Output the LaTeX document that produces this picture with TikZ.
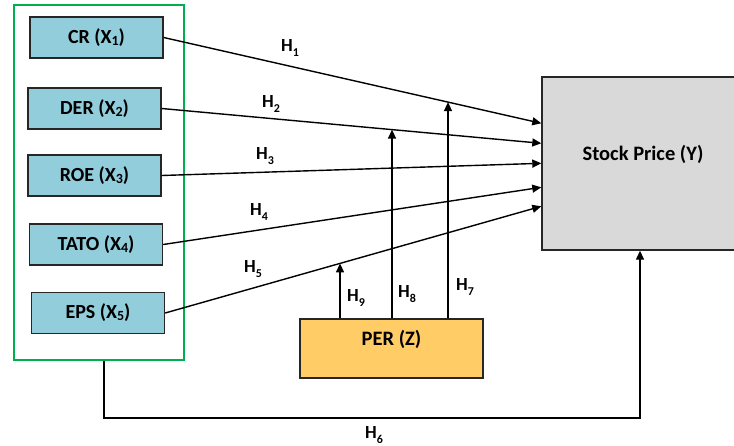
\documentclass[tikz,border=0pt]{standalone}
\usepackage{fontspec}
\setmainfont{Carlito}
\usetikzlibrary{arrows.meta,intersections,calc}
\definecolor{boxblue}{HTML}{92CDDC}
\definecolor{pergold}{HTML}{FFCC66}
\definecolor{ygray}{HTML}{D9D9D9}
\definecolor{grpgreen}{HTML}{00B050}
\newcommand{\xsub}[1]{\raisebox{-0.2ex}{\fontsize{14}{14}\selectfont #1}}
\newcommand{\hlab}[1]{H\raisebox{-0.5ex}{\fontsize{12}{12}\selectfont #1}}
\begin{document}
\begin{tikzpicture}[x=1pt,y=-1pt,
  xbox/.style={draw=black!85, line width=1.4pt, fill=boxblue, minimum width=133pt, minimum height=41pt, inner sep=0pt, font=\bfseries\fontsize{20}{23}\selectfont},
  bigbox/.style={draw=black!85, line width=1.4pt, inner sep=0pt},
  lbl/.style={font=\bfseries\fontsize{20.5}{23}\selectfont, inner sep=0pt},
  hl/.style={font=\bfseries\fontsize{18.5}{21}\selectfont, inner sep=0pt},
  arr/.style={line width=1.4pt, draw=black, -{Triangle[length=9pt,width=8pt]}}]
\useasboundingbox (0,0) rectangle (734,445);
\clip (0,0) rectangle (734,445);
% group box
\node[draw=grpgreen, line width=2.2pt, minimum width=170pt, minimum height=355pt, inner sep=0pt] (grp) at (99,182.5) {};
% independent variables
\node[xbox] (cr) at (96.5,37.5) {CR (X\xsub{1})};
\node[xbox] (der) at (94.5,108.5) {DER (X\xsub{2})};
\node[xbox] (roe) at (94.5,175.5) {ROE (X\xsub{3})};
\node[xbox] (tato) at (96,244.5) {TATO (X\xsub{4})};
\node[xbox] (eps) at (98,313) {EPS (X\xsub{5})};
% dependent
\node[bigbox, fill=ygray, minimum width=202pt, minimum height=173pt] (y) at (643,163.5) {};
\node[lbl] (ytxt) at ([yshift=9pt]y.center) {Stock Price (Y)};
% moderator
\node[bigbox, fill=pergold, minimum width=183pt, minimum height=59pt] (per) at (391.5,348.5) {};
\node[lbl] (pertxt) at ([yshift=9pt]per.center) {PER (Z)};
% targets
\coordinate (y1) at ([yshift=-47pt]y.north west);
\coordinate (y2) at ([yshift=-67pt]y.north west);
\coordinate (y3) at ([yshift=-87pt]y.north west);
\coordinate (y4) at ([yshift=-111pt]y.north west);
\coordinate (y5) at ([yshift=-130pt]y.north west);
\draw[arr, name path=h1] (cr.east) -- (y1);
\draw[arr, name path=h2] (der.east) -- (y2);
\draw[arr] (roe.east) -- (y3);
\draw[arr] (tato.east) -- (y4);
\draw[arr, name path=h5] (eps.east) -- (y5);
% moderating arrows
\coordinate (p7) at ([xshift=56.5pt]per.north);
\coordinate (p8) at ([xshift=0.5pt]per.north);
\coordinate (p9) at ([xshift=-51.5pt]per.north);
\path[name path=v7] (p7) -- ++(0,-300);
\path[name path=v8] (p8) -- ++(0,-300);
\path[name path=v9] (p9) -- ++(0,-300);
\path[name intersections={of=v7 and h1, by=i7}];
\path[name intersections={of=v8 and h2, by=i8}];
\path[name intersections={of=v9 and h5, by=i9}];
\draw[arr] (p7) -- (i7);
\draw[arr] (p8) -- (i8);
\draw[arr] (p9) -- (i9);
% H6 path
\coordinate (g6) at ([xshift=5pt]grp.south);
\coordinate (c6) at (372,418);
\coordinate (t6) at ([xshift=-3pt]y.south);
\draw[arr] (g6) -- (g6 |- c6) -- (c6 -| t6) -- (t6);
% labels
\node[hl] (lh1) at (290,48) {\hlab{1}};
\node[hl] (lh2) at (271,104) {\hlab{2}};
\node[hl] (lh3) at (265,156) {\hlab{3}};
\node[hl] (lh4) at (259,212) {\hlab{4}};
\node[hl] (lh5) at (253,269) {\hlab{5}};
\node[hl] (lh6) at (374,435) {\hlab{6}};
\node[hl] (lh7) at (465,287) {\hlab{7}};
\node[hl] (lh8) at (407,294) {\hlab{8}};
\node[hl] (lh9) at (356,298) {\hlab{9}};
\end{tikzpicture}
\end{document}
